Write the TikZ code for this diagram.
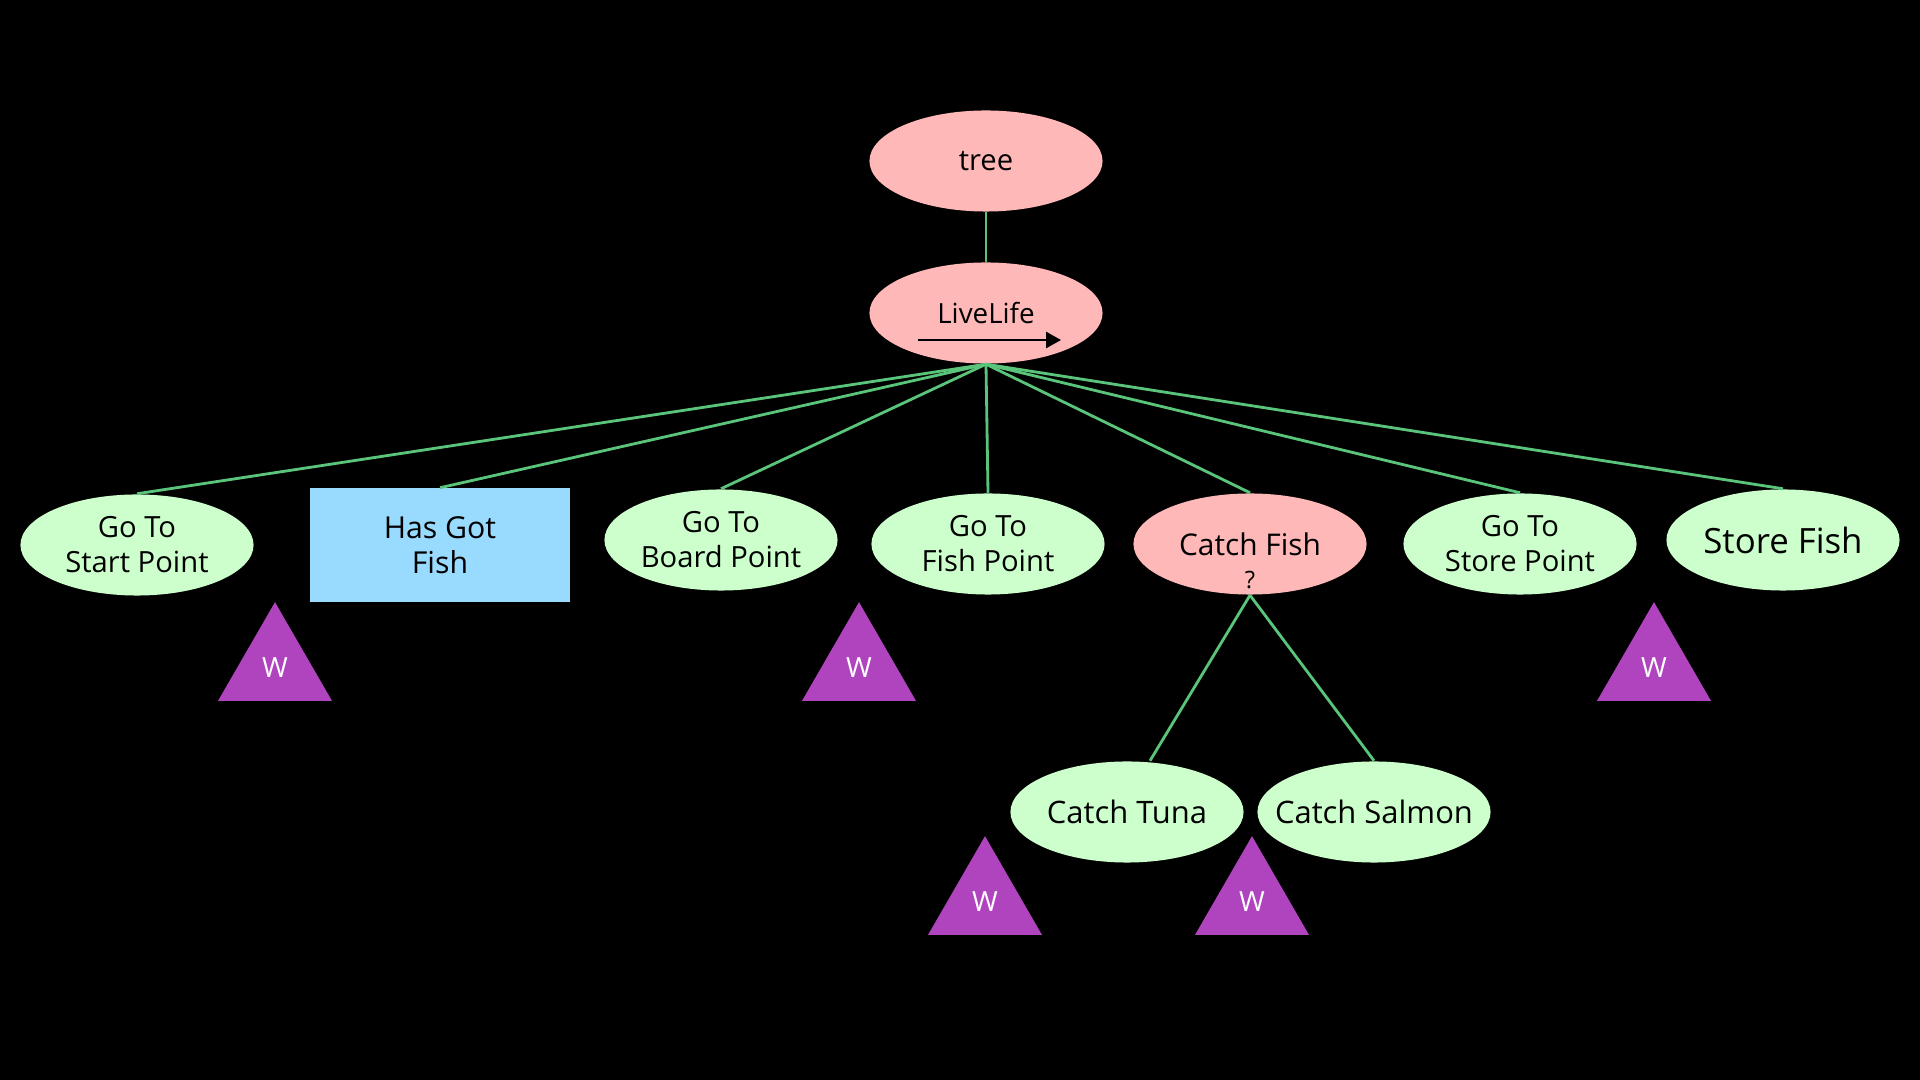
\documentclass[tikz,border=0pt]{standalone}
\usepackage{fontspec}
\setmainfont{Open Sans}
\usetikzlibrary{shapes.geometric,arrows.meta,positioning}
\definecolor{nodepink}{RGB}{255,184,184}
\definecolor{nodegreen}{RGB}{204,255,204}
\definecolor{condblue}{RGB}{153,218,255}
\definecolor{waitpurple}{RGB}{176,68,190}
\definecolor{edgegreen}{RGB}{90,196,122}

\begin{document}
\begin{tikzpicture}[x=0.01cm,y=-0.01cm,
    comp/.style={ellipse,fill=nodepink,minimum width=2.33cm,minimum height=1.01cm,inner xsep=-0.2cm,inner ysep=0pt,font=\fontsize{7.9}{9.5}\selectfont},
    act/.style={ellipse,fill=nodegreen,minimum width=2.33cm,minimum height=1.01cm,inner xsep=-0.2cm,inner ysep=0pt,align=center,font=\fontsize{8.3}{10}\selectfont},
    cond/.style={rectangle,fill=condblue,minimum width=2.59cm,minimum height=1.13cm,inner sep=0pt,align=center,font=\fontsize{8.6}{10}\selectfont},
    waitmark/.style={regular polygon,regular polygon sides=3,fill=waitpurple,minimum size=1.316cm,inner sep=0pt,text=white,font=\fontsize{7.9}{9}\selectfont},
    link/.style={edgegreen,line width=0.8pt}]
    % Background
    \useasboundingbox (0,0) rectangle (1920,1080);
    \fill[black] (0,0) rectangle (1920,1080);

    % Root and sequence
    \node[comp,font=\fontsize{8.3}{10}\selectfont] (tree) at (986,161) {tree};
    \node[comp] (live) at (986,313) {LiveLife};
    \draw[-{Triangle[length=0.15cm,width=0.16cm]},line width=0.75pt] ([shift={(-0.68cm,-0.27cm)}]live.center) -- ([shift={(0.75cm,-0.27cm)}]live.center);

    % Children
    \node[act] (start) at (137,545) {Go To\\Start Point};
    \node[cond] (hasfish) at (440,545) {Has Got\\Fish};
    \node[act] (board) at (721,540) {Go To\\Board Point};
    \node[act] (fishpt) at (988,544) {Go To\\Fish Point};
    \node[comp,font=\fontsize{8.5}{10}\selectfont] (catch) at (1250,544) {Catch Fish};
    \node[font=\fontsize{6.8}{8}\selectfont] (sel) at (1250,580) {?};
    \node[act] (storept) at (1520,544) {Go To\\Store Point};
    \node[act,font=\fontsize{9.9}{11}\selectfont] (store) at (1783,540) {Store Fish};

    % Fish choices
    \node[act,font=\fontsize{8.8}{10}\selectfont] (tuna) at (1127,812) {Catch Tuna};
    \node[act,font=\fontsize{8.8}{10}\selectfont] (salmon) at (1374,812) {Catch Salmon};

    % Wait markers
    \node[waitmark] (w1) at (275,668) {W};
    \node[waitmark] (w2) at (859,668) {W};
    \node[waitmark] (w3) at (1654,668) {W};
    \node[waitmark] (w4) at (985,902) {W};
    \node[waitmark] (w5) at (1252,902) {W};

    % Edges
    \draw[link] (tree.south) -- (live.north);
    \draw[link] (live.south) -- (start.north);
    \draw[link] (live.south) -- (hasfish.north);
    \draw[link] (live.south) -- (board.north);
    \draw[link] (live.south) -- (fishpt.north);
    \draw[link] (live.south) -- (catch.north);
    \draw[link] (live.south) -- (storept.north);
    \draw[link] (live.south) -- (store.north);
    \draw[link] (catch.south) -- ([xshift=0.23cm]tuna.north);
    \draw[link] (catch.south) -- (salmon.north);
\end{tikzpicture}
\end{document}
